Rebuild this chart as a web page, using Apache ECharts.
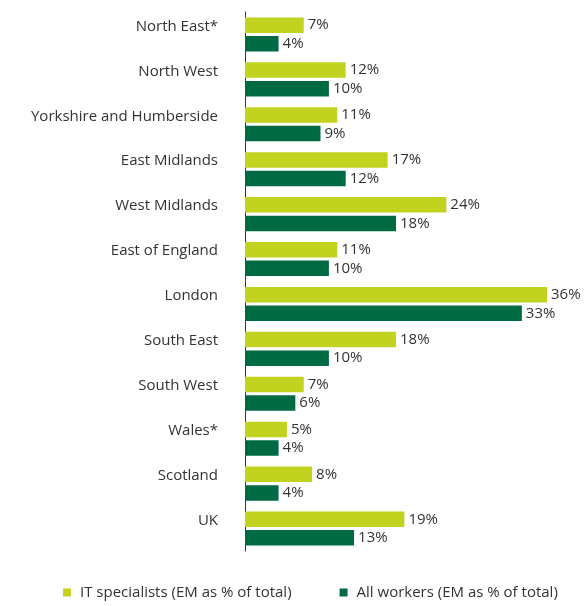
<!DOCTYPE html>
<html><head><meta charset="utf-8">
<script src="https://cdn.jsdelivr.net/npm/echarts@6/dist/echarts.min.js"></script>
<style>html,body{margin:0;padding:0;background:#fff}#c{width:585px;height:606px}</style>
</head><body><div id="c"></div>
<script>
var categories = ["North East*","North West","Yorkshire and Humberside","East Midlands","West Midlands","East of England","London","South East","South West","Wales*","Scotland","UK"];
var itSpecialists = [7,12,11,17,24,11,36,18,7,5,8,19];
var allWorkers = [4,10,9,12,18,10,33,10,6,4,4,13];
var seriesNames = ["IT specialists (EM as % of total)","All workers (EM as % of total)"];
var font = "Open Sans";
var chart = echarts.init(document.getElementById('c'));
chart.setOption({
  animation:false,
  textStyle:{fontFamily:font},
  grid:{left:245,top:12,width:335.6,height:539},
  xAxis:{type:'value',min:0,max:40,show:false},
  yAxis:{type:'category',inverse:true,data:categories,
    axisLine:{lineStyle:{color:'#333',width:1}},axisTick:{show:false},
    axisLabel:{color:'#333',fontSize:15,fontFamily:font,margin:27,verticalAlign:'bottom',lineHeight:16,padding:[0,0,0,0]}},
  legend:{bottom:1,left:58,itemWidth:8,itemHeight:8,itemGap:48,icon:'rect',
    textStyle:{color:'#333',fontSize:15,fontFamily:font,padding:[0,0,0,4]},data:seriesNames},
  series:[
    {name:seriesNames[0],type:'bar',data:itSpecialists,barWidth:15.5,barGap:'20%',
     itemStyle:{color:'#c1d21f'},
     label:{show:true,position:'right',distance:4,color:'#333',fontSize:15,formatter:'{c}%'}},
    {name:seriesNames[1],type:'bar',data:allWorkers,barWidth:15.5,
     itemStyle:{color:'#006b43'},
     label:{show:true,position:'right',distance:4,color:'#333',fontSize:15,formatter:'{c}%'}}
  ]
});
</script></body></html>
